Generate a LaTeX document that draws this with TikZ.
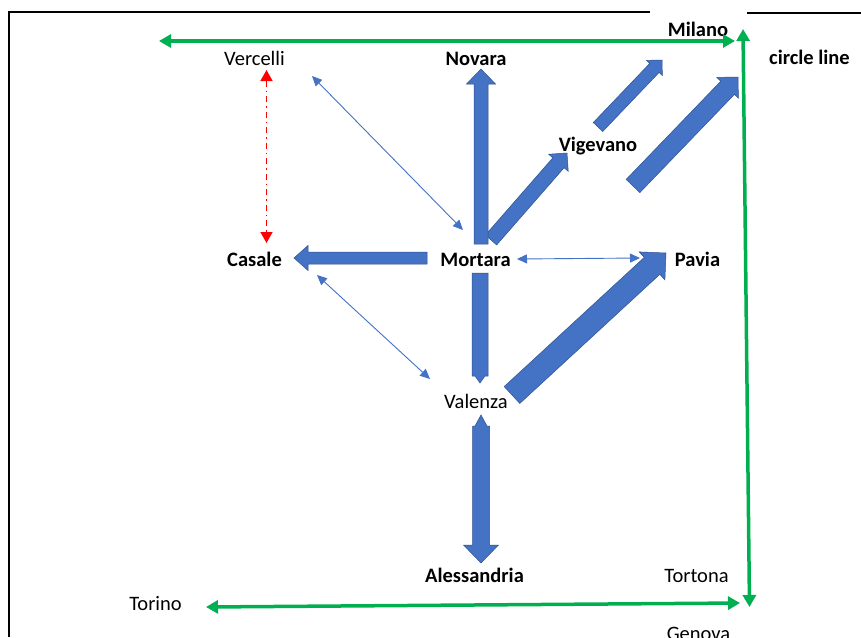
\documentclass[tikz,border=0pt]{standalone}
\usepackage{fontspec}
\setmainfont{Carlito}
\usetikzlibrary{calc,arrows.meta}
\definecolor{ablue}{HTML}{4472C4}
\definecolor{aedge}{HTML}{2F528F}
\definecolor{agreen}{HTML}{00B050}
\definecolor{ared}{HTML}{FF0000}
% block arrow: tail, tip, half shaft width, half head width, head length
\newcommand\blockarr[5]{%
  \coordinate (ba-h) at ($(#2)!#5!(#1)$);
  \filldraw[blockarrow] ($(#1)!#3!90:(#2)$) -- ($(ba-h)!#3!-90:(#1)$) -- ($(ba-h)!#4!-90:(#1)$) -- (#2)
    -- ($(ba-h)!#4!90:(#1)$) -- ($(ba-h)!#3!90:(#1)$) -- ($(#1)!#3!-90:(#2)$) -- cycle;}
% double block arrow: tipA, tipB, half shaft, half head A, head length A, half head B, head length B
\newcommand\dblockarr[7]{%
  \coordinate (ba-ha) at ($(#1)!#5!(#2)$);
  \coordinate (ba-hb) at ($(#2)!#7!(#1)$);
  \filldraw[blockarrow] (#1) -- ($(ba-ha)!#4!90:(#2)$) -- ($(ba-ha)!#3!90:(#2)$) -- ($(ba-hb)!#3!-90:(#1)$)
    -- ($(ba-hb)!#6!-90:(#1)$) -- (#2) -- ($(ba-hb)!#6!90:(#1)$) -- ($(ba-hb)!#3!90:(#1)$)
    -- ($(ba-ha)!#3!-90:(#2)$) -- ($(ba-ha)!#4!-90:(#2)$) -- cycle;}
\tikzset{
  blockarrow/.style={fill=ablue, draw=aedge, line width=0.5pt, line join=miter},
  city/.style={anchor=base, inner sep=0pt, font=\fontsize{20.5}{24}\selectfont},
  bcity/.style={city, font=\fontsize{20.5}{24}\selectfont\bfseries},
  thinlink/.style={draw=ablue, line width=0.9pt, {Triangle[width=9pt,length=10pt]}-{Triangle[width=9pt,length=10pt]}},
  greenlink/.style={draw=agreen, line width=3.5pt, {Triangle[width=13pt,length=12pt]}-{Triangle[width=13pt,length=12pt]}},
  redlink/.style={draw=ared, line width=1.5pt, dash pattern=on 6pt off 4pt on 1.5pt off 4pt, {Triangle[width=12pt,length=11pt]}-{Triangle[width=12pt,length=11pt]}},
  frameline/.style={draw=black, line width=1.3pt}
}
\begin{document}
\begin{tikzpicture}[x=1pt,y=-1pt]
\useasboundingbox (0,0) rectangle (861,637);
\fill[white] (0,0) rectangle (861,637);
% frame
\coordinate (fr-bl) at (9,637);
\coordinate (fr-tl) at (9,12);
\coordinate (fr-tm) at (650,12);
\coordinate (fr-ta) at (747,12.5);
\coordinate (fr-tr) at (861,12.5);
\draw[frameline] (fr-bl) -- (fr-tl) -- (fr-tm);
\draw[frameline, line width=2pt] (fr-ta) -- (fr-tr);

% city labels
\node[city]  (vercelli) at (254.5,65.5) {Vercelli};
\node[bcity] (novara)   at (476,65) {Novara};
\node[bcity] (milano)   at (698,36) {Milano};
\node[bcity] (circle)   at (809.5,64.5) {circle line};
\node[bcity] (vigevano) at (598,151) {Vigevano};
\node[bcity] (casale)   at (254.5,266) {Casale};
\node[bcity] (mortara)  at (475.5,266) {Mortara};
\node[bcity] (pavia)    at (697.5,266) {Pavia};
\node[city]  (valenza)  at (476,408) {Valenza};
\node[bcity] (alessandria) at (474.5,582) {Alessandria};
\node[city]  (tortona)  at (696.5,582) {Tortona};
\node[city]  (torino)   at (155.5,610) {Torino};
\node[city]  (genova)   at (698.5,640) {Genova};

% connector end points
\coordinate (cas-tail) at (427,258);   \coordinate (cas-tip) at (294,258);
\coordinate (val-tail) at (480,273);   \coordinate (val-tip) at (480,383);
\coordinate (ale-top) at (481,415);    \coordinate (ale-tip) at (481,563);
\coordinate (vig-tail) at (491,240);   \coordinate (vig-tip) at (567,153);
\coordinate (nov-tail) at (481,244);   \coordinate (nov-tip) at (481,69);
\coordinate (mil1-tail) at (598,127);  \coordinate (mil1-tip) at (662,60);
\coordinate (mil2-tail) at (633,186);  \coordinate (mil2-tip) at (738,77);
\coordinate (pav-tail) at (512,395);   \coordinate (pav-tip) at (666,253);

\coordinate (ver-a) at (312,76);   \coordinate (mor-a) at (463,230);
\coordinate (cas-a) at (317,275);  \coordinate (val-a) at (430,379);
\coordinate (mor-b) at (517,259);  \coordinate (pav-a) at (640,258);
\coordinate (ver-r) at (266.5,70); \coordinate (cas-r) at (266.5,243);

\coordinate (g-west) at (159,41);  \coordinate (g-mil) at (735,41);
\coordinate (g-top) at (743,29);   \coordinate (g-bot) at (749.5,607);
\coordinate (g-tor) at (206,607);  \coordinate (g-gen) at (740,603);

% block arrows
\blockarr{cas-tail}{cas-tip}{6pt}{12.5pt}{14pt}
\blockarr{val-tail}{val-tip}{8pt}{5pt}{7pt}
\dblockarr{ale-top}{ale-tip}{8.5pt}{6pt}{11pt}{17.5pt}{18pt}
\blockarr{vig-tail}{vig-tip}{7.5pt}{13pt}{13pt}
\blockarr{nov-tail}{nov-tip}{7pt}{14.5pt}{15pt}
\blockarr{mil1-tail}{mil1-tip}{6.5pt}{11pt}{11pt}
\blockarr{mil2-tail}{mil2-tip}{9.5pt}{15pt}{15pt}
\blockarr{pav-tail}{pav-tip}{11.5pt}{19pt}{19pt}

% thin links
\draw[thinlink] (ver-a) -- (mor-a);
\draw[thinlink] (cas-a) -- (val-a);
\draw[thinlink] (mor-b) -- (pav-a);
\draw[redlink] (ver-r) -- (cas-r);

% green circle line
\draw[greenlink] (g-west) -- (g-mil);
\draw[greenlink] (g-top) -- (g-bot);
\draw[greenlink] (g-tor) -- (g-gen);
\end{tikzpicture}
\end{document}
